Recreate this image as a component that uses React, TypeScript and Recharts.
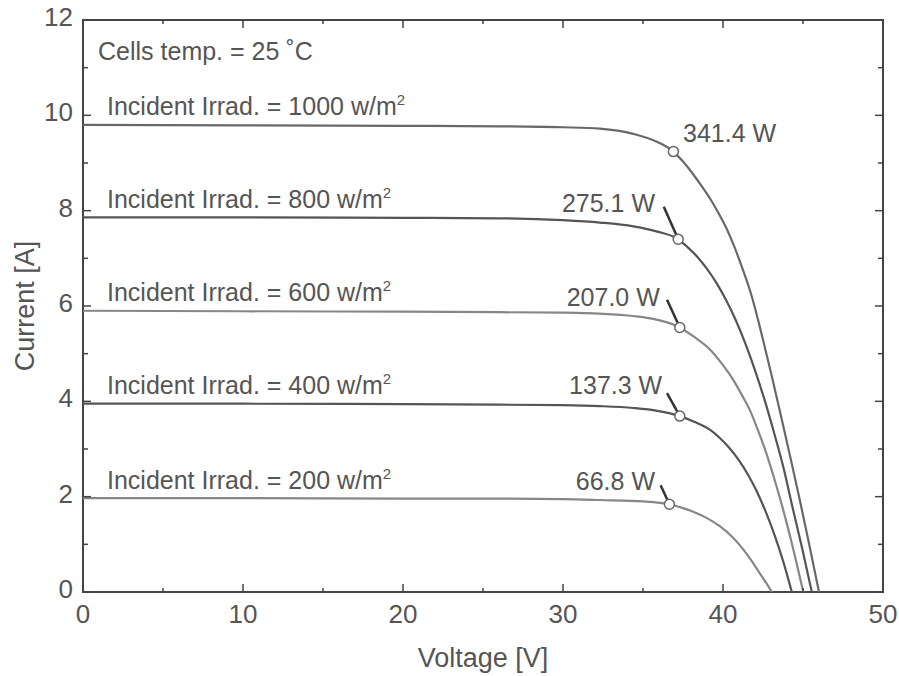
import React from 'react';
import { LineChart, Line, XAxis, YAxis, ReferenceDot, ReferenceLine, ReferenceArea } from 'recharts';

// I-V curves: [voltage V, current A]
const IRRADIANCE = [1000, 800, 600, 400, 200];

const CURVE_1000 = [
  [0, 9.8], [10, 9.79], [20, 9.78], [26, 9.77], [30, 9.75], [32.3, 9.72], [34.4, 9.61],
  [35.9, 9.44], [36.9, 9.24], [37.5, 9.03], [38.1, 8.78], [38.7, 8.5], [39.2, 8.25],
  [39.7, 7.96], [40.2, 7.64], [40.7, 7.25], [41.2, 6.8], [41.8, 6.2], [42.4, 5.43],
  [43.0, 4.6], [43.6, 3.73], [44.2, 2.84], [44.8, 1.93], [45.4, 0.98], [46.0, 0],
];
const CURVE_800 = [
  [0, 7.86], [10, 7.86], [20, 7.85], [26, 7.84], [30, 7.8], [32.3, 7.75], [34.4, 7.67],
  [35.9, 7.56], [37.2, 7.4], [37.8, 7.23], [38.4, 7.03], [39.0, 6.78], [39.6, 6.48],
  [40.2, 6.12], [40.8, 5.7], [41.4, 5.21], [42.0, 4.65], [42.6, 4.03], [43.2, 3.33],
  [43.8, 2.58], [44.35, 1.77], [44.95, 0.91], [45.55, 0],
];
const CURVE_600 = [
  [0, 5.9], [10, 5.89], [20, 5.88], [26, 5.87], [30, 5.86], [32.3, 5.84], [34.4, 5.79],
  [35.9, 5.71], [37.3, 5.55], [38.2, 5.35], [39.2, 5.08], [39.9, 4.8], [40.6, 4.47],
  [41.2, 4.12], [41.7, 3.8], [42.2, 3.38], [42.7, 2.92], [43.3, 2.27], [43.9, 1.55],
  [44.45, 0.82], [45.02, 0],
];
const CURVE_400 = [
  [0, 3.95], [10, 3.95], [20, 3.94], [26, 3.93], [30, 3.92], [32.3, 3.9], [34.4, 3.86],
  [35.9, 3.8], [37.3, 3.69], [38.2, 3.57], [39.2, 3.4], [39.8, 3.23], [40.4, 3.02],
  [41.0, 2.76], [41.6, 2.44], [42.1, 2.12], [42.7, 1.66], [43.3, 1.12], [43.8, 0.6], [44.3, 0],
];
const CURVE_200 = [
  [0, 1.97], [10, 1.97], [20, 1.96], [26, 1.96], [30, 1.95], [32.3, 1.93], [35, 1.9],
  [36.65, 1.84], [37.4, 1.77], [38.1, 1.69], [39.0, 1.55], [39.8, 1.38], [40.6, 1.15],
  [41.3, 0.88], [41.8, 0.65], [42.3, 0.39], [42.7, 0.19], [43.05, 0],
];
const CURVES = [CURVE_1000, CURVE_800, CURVE_600, CURVE_400, CURVE_200];
const CURVE_COLORS = ['#686868', '#555555', '#878787', '#555555', '#878787'];

// maximum power points
const MPP_V = [36.9, 37.2, 37.3, 37.3, 36.65];
const MPP_I = [9.24, 7.4, 5.55, 3.69, 1.84];
const MPP_TEXT = ['341.4 W', '275.1 W', '207.0 W', '137.3 W', '66.8 W'];
// where the power text sits (x, y centre, anchor) and where its leader starts
const MPP_TEXT_POS: [number, number, string][] = [
  [37.5, 9.63, 'start'], [35.75, 8.16, 'end'], [36.05, 6.19, 'end'], [36.2, 4.34, 'end'], [35.75, 2.33, 'end'],
];
const LEADER_FROM: ([number, number] | null)[] = [null, [36.3, 8.08], [36.5, 6.13], [36.5, 4.17], [36.1, 2.24]];

const X_TICKS = [0, 5, 10, 15, 20, 25, 30, 35, 40, 45, 50];
const Y_TICKS = [0, 1, 2, 3, 4, 5, 6, 7, 8, 9, 10, 11, 12];

const FONT = '"Liberation Sans", Arial, Helvetica, sans-serif';
const TEXT = '#555';
const AXIS = '#454545';

// chart pinned to the page corner so nothing scrolls or clips
const CHART_W = 899;
const CHART_H = 676;
const MARGIN = { top: 20, right: 16, bottom: 0, left: 0 };
const YAXIS_W = 83;
const PLOT_W = CHART_W - MARGIN.left - MARGIN.right - YAXIS_W;
const PLOT_H = 572;
const XAXIS_H = CHART_H - MARGIN.top - MARGIN.bottom - PLOT_H;

// ticks point inwards, mirrored on the top / right edges of the box
const BottomTick = (props: any) => {
  const { x, y, payload } = props;
  const major = payload.value % 10 === 0;
  const len = major ? 8 : 4;
  const top = y - PLOT_H;
  return (
    <g>
      <line x1={x} x2={x} y1={y} y2={y - len} stroke={AXIS} strokeWidth={1.5} />
      <line x1={x} x2={x} y1={top} y2={top + len} stroke={AXIS} strokeWidth={1.5} />
      {major && (
        <text x={x} y={y + 31} textAnchor="middle" fontSize={26} fontFamily={FONT} fill={TEXT}>
          {payload.value}
        </text>
      )}
    </g>
  );
};

const LeftTick = (props: any) => {
  const { x, y, payload } = props;
  const major = payload.value % 2 === 0;
  const len = major ? 8 : 5;
  const right = x + PLOT_W;
  return (
    <g>
      <line x1={x} x2={x + len} y1={y} y2={y} stroke={AXIS} strokeWidth={1.5} />
      <line x1={right} x2={right - len} y1={y} y2={y} stroke={AXIS} strokeWidth={1.5} />
      {major && (
        <text x={x - 10} y={y + 6} textAnchor="end" fontSize={26} fontFamily={FONT} fill={TEXT}>
          {payload.value}
        </text>
      )}
    </g>
  );
};

const textLabel = (content: React.ReactNode, anchor: string, dy: number) => (props: any) => {
  const { viewBox } = props;
  return (
    <text x={viewBox.x} y={viewBox.y + dy} textAnchor={anchor} fontSize={25} fontFamily={FONT} fill={TEXT}>
      {content}
    </text>
  );
};

const irradText = (w: number) => (
  <>
    {`Incident Irrad. = ${w} w/m`}
    <tspan dy={-10} fontSize={15}>2</tspan>
  </>
);

export default function App() {
  return (
    <div style={{ position: 'absolute', left: 0, top: 0 }}>
      <style>{'html,body{overflow:hidden}.recharts-surface{overflow:visible !important;display:block}'}</style>
      <LineChart width={CHART_W} height={CHART_H} margin={MARGIN}>
        <XAxis
          type="number"
          dataKey="v"
          domain={[0, 50]}
          ticks={X_TICKS}
          interval={0}
          allowDataOverflow
          height={XAXIS_H}
          tickSize={0}
          tickMargin={0}
          tickLine={false}
          axisLine={false}
          tick={BottomTick}
          label={{
            value: 'Voltage [V]',
            content: (p: any) => (
              <text
                x={p.viewBox.x + p.viewBox.width / 2}
                y={p.viewBox.y + 75}
                textAnchor="middle"
                fontSize={27}
                fontFamily={FONT}
                fill={TEXT}
              >
                Voltage [V]
              </text>
            ),
          }}
        />
        <YAxis
          type="number"
          domain={[0, 12]}
          ticks={Y_TICKS}
          interval={0}
          allowDataOverflow
          width={YAXIS_W}
          tickSize={0}
          tickMargin={0}
          tickLine={false}
          axisLine={false}
          tick={LeftTick}
          label={{
            value: 'Current [A]',
            content: (p: any) => {
              const cx = p.viewBox.x + 25;
              const cy = p.viewBox.y + p.viewBox.height / 2;
              return (
                <text
                  x={cx}
                  y={cy}
                  transform={`rotate(-90 ${cx} ${cy})`}
                  textAnchor="middle"
                  dominantBaseline="central"
                  fontSize={27}
                  fontFamily={FONT}
                  fill={TEXT}
                >
                  Current [A]
                </text>
              );
            },
          }}
        />

        <ReferenceArea x1={0} x2={50} y1={0} y2={12} fill="none" stroke={AXIS} strokeWidth={2} fillOpacity={0} />

        {CURVES.map((curve, i) => (
          <Line
            key={IRRADIANCE[i]}
            data={curve.map(([v, c]) => ({ v, i: c }))}
            dataKey="i"
            type="monotone"
            stroke={CURVE_COLORS[i]}
            strokeWidth={2.2}
            dot={false}
            activeDot={false}
            isAnimationActive={false}
          />
        ))}

        {LEADER_FROM.map((from, i) =>
          from ? (
            <ReferenceLine
              key={`lead-${i}`}
              segment={[{ x: from[0], y: from[1] }, { x: MPP_V[i], y: MPP_I[i] }]}
              stroke="#333"
              strokeWidth={2.5}
            />
          ) : null
        )}

        {MPP_V.map((v, i) => (
          <ReferenceDot key={`mpp-${i}`} x={v} y={MPP_I[i]} r={5} fill="#fff" stroke="#666" strokeWidth={1.5} />
        ))}

        {MPP_TEXT.map((t, i) => (
          <ReferenceDot
            key={`mpp-text-${i}`}
            x={MPP_TEXT_POS[i][0]}
            y={MPP_TEXT_POS[i][1]}
            r={0}
            fill="none"
            stroke="none"
            label={textLabel(t, MPP_TEXT_POS[i][2], 9)}
          />
        ))}

        {IRRADIANCE.map((w, i) => (
          <ReferenceDot
            key={`irr-${w}`}
            x={1.5}
            y={CURVES[i][0][1] + 0.2}
            r={0}
            fill="none"
            stroke="none"
            label={textLabel(irradText(w), 'start', 0)}
          />
        ))}

        <ReferenceDot
          x={0.94}
          y={11.16}
          r={0}
          fill="none"
          stroke="none"
          label={textLabel('Cells temp. = 25 ˚C', 'start', 0)}
        />
      </LineChart>
    </div>
  );
}
